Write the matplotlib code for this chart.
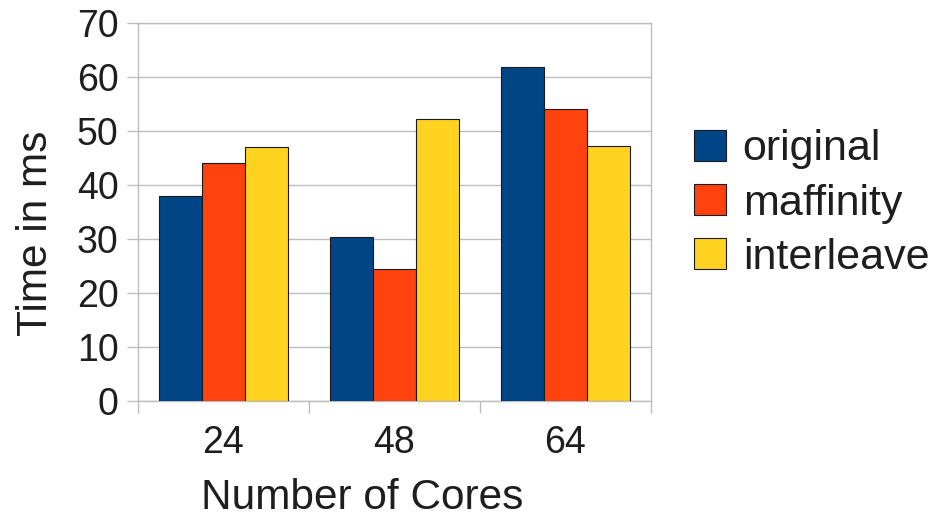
import numpy as np
import matplotlib
matplotlib.use('Agg')
import matplotlib.pyplot as plt

# ─────────────────────────────────────────────
#  データ
# ─────────────────────────────────────────────
cores = ['24', '48', '64']
series_names = ['original', 'maffinity', 'interleave']
original = [38.0, 30.4, 61.9]
maffinity = [44.1, 24.5, 54.1]
interleave = [47.1, 52.3, 47.3]
series_values = [original, maffinity, interleave]
colors = ['#004586', '#ff420e', '#ffd320']

plt.rcParams['font.family'] = ['Liberation Sans', 'DejaVu Sans']
GRAY = '#bdbdbd'
TEXT = '#1e1e1e'

fig = plt.figure(figsize=(9.31, 5.19), dpi=100)
ax = fig.add_axes([138 / 931, 1 - 401 / 519, (651 - 138) / 931, (401 - 23) / 519])

x = np.arange(len(cores))
width = 0.25
for i, (name, vals, c) in enumerate(zip(series_names, series_values, colors)):
    ax.bar(x + (i - 1) * width, vals, width, color=c, edgecolor='#1a1a1a',
           linewidth=0.8, label=name, zorder=3)

ax.set_xlim(-0.5, len(cores) - 0.5)
ax.set_ylim(0, 70)
ax.set_yticks(range(0, 71, 10))
ax.set_xticks(x)
ax.set_xticklabels(cores)
ax.set_xticks(np.arange(-0.5, len(cores), 1.0), minor=True)

# 横グリッドと枠線 (LibreOffice 風の薄いグレー)
ax.grid(axis='y', color=GRAY, linewidth=1.0, zorder=0)
ax.set_axisbelow(True)
for sp in ax.spines.values():
    sp.set_color(GRAY)
    sp.set_linewidth(1.0)

ax.tick_params(axis='y', direction='out', length=8, width=1.0, color=GRAY,
               labelsize=27, labelcolor=TEXT, pad=6)
ax.tick_params(axis='x', which='major', length=0, labelsize=27,
               labelcolor=TEXT, pad=17)
ax.tick_params(axis='x', which='minor', direction='out', length=8.5,
               width=1.0, color=GRAY)

fig.text(36 / 931, 1 - 233.5 / 519, 'Time in ms', rotation=90,
         ha='center', va='center', fontsize=30.5, color=TEXT)
fig.text(362.5 / 931, 1 - 509 / 519, 'Number of Cores', ha='center',
         va='baseline', fontsize=30.5, color=TEXT)

leg = fig.legend(loc='center left', bbox_to_anchor=(694 / 931, 1 - 203.5 / 519),
                 frameon=False, fontsize=31, borderpad=0, borderaxespad=0,
                 handlelength=0.75, handleheight=0.72, handletextpad=0.38,
                 labelspacing=0.33)
for t in leg.get_texts():
    t.set_color(TEXT)

plt.savefig('out.png', dpi=100)
plt.close()
